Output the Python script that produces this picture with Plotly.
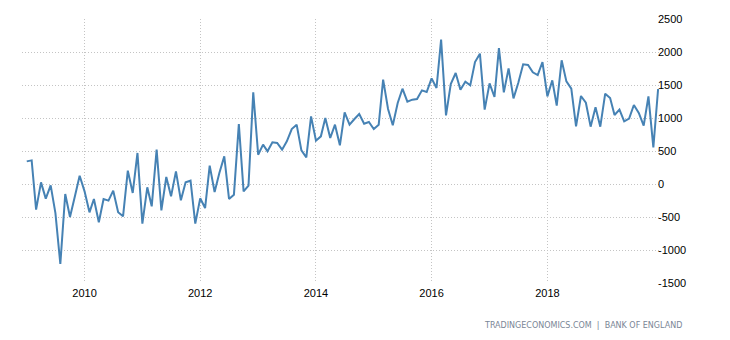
import plotly.graph_objects as go
import pandas as pd

start_month = "2009-01-01"
values = [
    343, 358, -389, 25, -222, -20, -440, -1212, -152, -500, -187, 126,
    -111, -429, -227, -580, -227, -252, -101, -429, -490, 202, -136, 470,
    -601, -50, -338, 520, -399, 106, -187, 192, -247, 25, 50, -601,
    -217, -364, 278, -121, 167, 419, -227, -162, 909, -111, -25, 1390,
    444, 596, 495, 631, 621, 520, 646, 833, 899, 510, 404, 1025,
    657, 722, 1000, 697, 899, 586, 1086, 899, 985, 1061, 912, 939,
    833, 899, 1581, 1136, 889, 1227, 1444, 1247, 1278, 1288, 1419, 1394,
    1601, 1455, 2187, 1040, 1515, 1682, 1429, 1550, 1495, 1848, 1975, 1126,
    1525, 1318, 2060, 1389, 1752, 1298, 1530, 1813, 1803, 1692, 1651, 1848,
    1328, 1571, 1187, 1874, 1555, 1444, 874, 1333, 1232, 869, 1162, 869,
    1369, 1303, 1045, 1126, 950, 990, 1197, 1076, 884, 1328, 556, 1439,
]
dates = pd.date_range(start_month, periods=len(values), freq="MS")

x_ticks = ["2010-01-01", "2012-01-01", "2014-01-01", "2016-01-01", "2018-01-01"]
x_tick_labels = ["2010", "2012", "2014", "2016", "2018"]
y_ticks = [-1500, -1000, -500, 0, 500, 1000, 1500, 2000, 2500]
y_tick_labels = ["-1500", "-1000", "-500", "0", "500", "1000", "1500", "2000", "2500"]
source_text = "TRADINGECONOMICS.COM  |  BANK OF ENGLAND"

fig = go.Figure()
fig.add_trace(go.Scatter(
    x=dates, y=values, mode="lines",
    line=dict(color="#4682b4", width=2),
    hoverinfo="x+y", showlegend=False,
))

grid = dict(showgrid=True, gridcolor="#c4c4c4", griddash="1px,2px", gridwidth=1,
            showline=False, zeroline=False, ticks="", ticklen=0)

fig.update_layout(
    width=730, height=340,
    margin=dict(l=22, r=70, t=19, b=57),
    paper_bgcolor="white", plot_bgcolor="white",
    font=dict(family="Liberation Sans, Arial, sans-serif", size=11, color="#000000"),
    xaxis=dict(
        range=["2008-12-02", "2019-12-13"],
        tickvals=x_ticks, ticktext=x_tick_labels,
        tickfont=dict(size=11, color="#000000"),
        ticklabelstandoff=2,
        **grid,
    ),
    yaxis=dict(
        range=[-1500, 2500], side="right",
        tickvals=y_ticks, ticktext=y_tick_labels,
        tickfont=dict(size=11, color="#000000"),
        ticklabelstandoff=-3,
        **grid,
    ),
    annotations=[dict(
        text=source_text, xref="paper", yref="paper",
        x=(684 - 22) / 638, y=-(325 - 283) / 264,
        xanchor="right", yanchor="middle", showarrow=False,
        font=dict(family="DejaVu Sans, Verdana, sans-serif", size=8, color="#7a8696"),
    )],
)

fig.write_html("out.html")
